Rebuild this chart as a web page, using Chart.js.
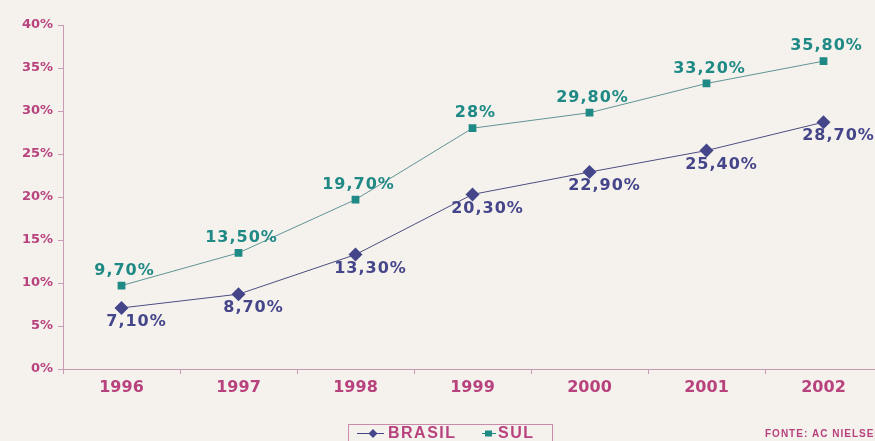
<!DOCTYPE html>
<html>
<head>
<meta charset="utf-8">
<script src="https://cdn.jsdelivr.net/npm/chart.js@4/dist/chart.umd.min.js"></script>
<style>
  html, body { margin: 0; padding: 0; background: #f5f2ee; overflow: hidden; }
  #wrap { width: 890px; height: 441px; }
</style>
</head>
<body>
<div id="wrap"><canvas id="myChart" width="890" height="441"></canvas></div>
<script>
var years = ['1996', '1997', '1998', '1999', '2000', '2001', '2002'];
var brasil = [7.1, 8.7, 13.3, 20.3, 22.9, 25.4, 28.7];
var sul = [9.7, 13.5, 19.7, 28, 29.8, 33.2, 35.8];
var brasilLabels = ['7,10%', '8,70%', '13,30%', '20,30%', '22,90%', '25,40%', '28,70%'];
var sulLabels = ['9,70%', '13,50%', '19,70%', '28%', '29,80%', '33,20%', '35,80%'];

var pink = '#b8427d';
var axisPink = '#c99ab4';
var navy = '#45468a';
var teal = '#1f8985';

// value labels next to each point
var pointLabels = {
  id: 'pointLabels',
  afterDatasetsDraw: function (chart) {
    var ctx = chart.ctx;
    ctx.save();
    ctx.font = 'bold 16px "DejaVu Sans"';
    ctx.letterSpacing = '1px';
    ctx.textAlign = 'center';
    ctx.textBaseline = 'middle';
    chart.data.datasets.forEach(function (ds, i) {
      var meta = chart.getDatasetMeta(i);
      meta.data.forEach(function (pt, j) {
        ctx.fillStyle = ds.labelColor;
        ctx.fillText(ds.valueLabels[j], pt.x + ds.labelDx, pt.y + ds.labelDy);
      });
    });
    ctx.restore();
  }
};

// boxed legend and source note at the bottom
var bottomNotes = {
  id: 'bottomNotes',
  afterDraw: function (chart) {
    var ctx = chart.ctx;
    ctx.save();
    ctx.strokeStyle = '#c98cab';
    ctx.lineWidth = 1;
    ctx.strokeRect(348.5, 424.5, 204, 30);

    ctx.font = 'bold 16px "Liberation Sans"';
    ctx.letterSpacing = '1.5px';
    ctx.textBaseline = 'middle';
    ctx.textAlign = 'left';

    // BRASIL
    ctx.strokeStyle = navy;
    ctx.beginPath(); ctx.moveTo(357, 433.5); ctx.lineTo(384, 433.5); ctx.stroke();
    ctx.fillStyle = navy;
    ctx.beginPath();
    ctx.moveTo(373, 429); ctx.lineTo(377.5, 433.5); ctx.lineTo(373, 438); ctx.lineTo(368.5, 433.5);
    ctx.closePath(); ctx.fill();
    ctx.fillStyle = pink;
    ctx.fillText('BRASIL', 388, 434);

    // SUL
    ctx.strokeStyle = teal;
    ctx.beginPath(); ctx.moveTo(482, 433.5); ctx.lineTo(496, 433.5); ctx.stroke();
    ctx.fillStyle = teal;
    ctx.fillRect(485, 430.5, 7, 6);
    ctx.fillStyle = pink;
    ctx.fillText('SUL', 498, 434);

    ctx.font = 'bold 10px "Liberation Sans"';
    ctx.letterSpacing = '1px';
    ctx.fillText('FONTE: AC NIELSEN', 765, 434);
    ctx.restore();
  }
};

var chart = new Chart(document.getElementById('myChart').getContext('2d'), {
  type: 'line',
  data: {
    labels: years,
    datasets: [{
      label: 'BRASIL',
      data: brasil,
      valueLabels: brasilLabels,
      labelColor: navy,
      labelDx: 15,
      labelDy: 14,
      borderColor: '#4d4d80',
      borderWidth: 1,
      backgroundColor: navy,
      pointStyle: 'rectRot',
      pointRadius: 7,
      pointBorderWidth: 0,
      tension: 0
    }, {
      label: 'SUL',
      data: sul,
      valueLabels: sulLabels,
      labelColor: teal,
      labelDx: 3,
      labelDy: -15,
      borderColor: '#5f9494',
      borderWidth: 1,
      backgroundColor: teal,
      pointStyle: 'rect',
      pointRadius: 5.5,
      pointBorderWidth: 0,
      tension: 0
    }]
  },
  options: {
    responsive: false,
    animation: false,
    layout: { padding: { top: 25, right: 8, left: 0, bottom: 0 } },
    plugins: {
      legend: { display: false },
      tooltip: { enabled: false }
    },
    scales: {
      x: {
        offset: true,
        afterFit: function (s) { s.height = 72; },
        border: { color: axisPink, width: 1 },
        grid: { drawOnChartArea: false, drawTicks: true, tickLength: 5, color: axisPink, offset: true },
        ticks: { color: pink, font: { family: 'DejaVu Sans', size: 16, weight: 'bold' }, padding: 4 }
      },
      y: {
        min: 0,
        max: 40,
        afterFit: function (s) { s.width = 63; },
        border: { color: axisPink, width: 1 },
        grid: { drawOnChartArea: false, drawTicks: true, tickLength: 5, color: axisPink },
        ticks: {
          stepSize: 5,
          color: pink,
          padding: 5,
          font: { family: 'DejaVu Sans', size: 13, weight: 'bold' },
          callback: function (v) { return v + '%'; }
        }
      }
    }
  },
  plugins: [pointLabels, bottomNotes]
});
</script>
</body>
</html>
